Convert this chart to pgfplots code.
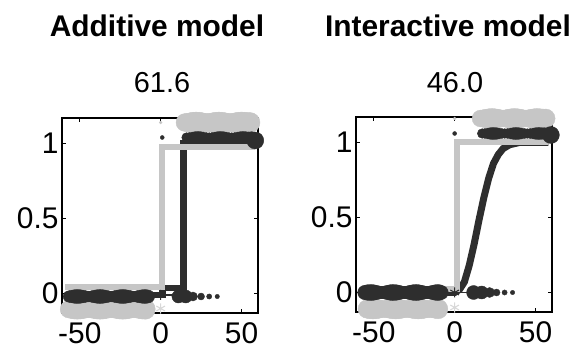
\documentclass[border=0pt]{standalone}
\usepackage{fontspec}
\setmainfont{Liberation Sans}
\usepackage{pgfplots}
\pgfplotsset{compat=1.18}
\definecolor{dk}{HTML}{2E2E2E}
\definecolor{lt}{HTML}{C6C6C6}
\definecolor{xlt}{HTML}{D8D8D8}

\pgfplotsset{
  panel/.style={
    scale only axis, width=196bp, height=195bp,
    xmin=-61, xmax=60.2, ymin=-0.13, ymax=1.17,
    xtick={-50,0,50}, xticklabels={-50,0,50},
    ytick={0,0.5,1}, yticklabels={0,0.5,1},
    tick align=inside, major tick length=4bp,
    tick style={black, line width=0.8bp},
    axis line style={black, line width=1.2bp},
    tick label style={font=\fontsize{30}{30}\selectfont},
    xticklabel style={yshift=-6bp},
    clip=false,
    anchor=south west,
  },
  blobs/.style={scatter, only marks, mark=*, point meta=explicit,
    scatter/use mapped color={draw=#1, fill=#1},
    visualization depends on={\thisrow{r} \as \rr},
    scatter/@pre marker code/.append style={/tikz/mark size=\rr bp}},
}

\begin{document}
\begin{tikzpicture}
\useasboundingbox (0,0) rectangle (579bp,357bp);

% ---------------- additive model ----------------
\begin{axis}[panel, at={(62bp,44bp)}]
  % observed proportions, marker radius ~ number of trials
  \addplot[blobs=lt] table[meta=r] {
x y r
-56.75 -0.105 8.7
-55.0 -0.105 9.3
-53.25 -0.105 9.8
-51.5 -0.105 10
-49.75 -0.105 9.8
-48.0 -0.105 9.3
-46.25 -0.105 8.7
-44.5 -0.105 8.4
-42.75 -0.105 8.7
-41.0 -0.105 9.3
-39.25 -0.105 9.8
-37.5 -0.105 10
-35.75 -0.105 9.8
-34.0 -0.105 9.3
-32.25 -0.105 8.7
-30.5 -0.105 8.4
-28.75 -0.105 8.7
-27.0 -0.105 9.3
-25.25 -0.105 9.8
-23.5 -0.105 10
-21.75 -0.105 9.8
-20.0 -0.105 9.3
-18.25 -0.105 8.7
-16.5 -0.105 8.4
-14.75 -0.105 8.7
-13.0 -0.105 9.3
-11.25 -0.105 9.8
-9.5 -0.105 10
  };
  \addplot[blobs=lt] table[meta=r] {
x y r
15.0 1.14 8.9
16.75 1.14 9.2
18.5 1.14 9.8
20.25 1.14 10.3
22.0 1.14 10.5
23.75 1.14 10.3
25.5 1.14 9.8
27.25 1.14 9.2
29.0 1.14 8.9
30.75 1.14 9.2
32.5 1.14 9.8
34.25 1.14 10.3
36.0 1.14 10.5
37.75 1.14 10.3
39.5 1.14 9.8
41.25 1.14 9.2
43.0 1.14 8.9
44.75 1.14 9.2
46.5 1.14 9.8
48.25 1.14 10.3
50.0 1.14 10.5
51.75 1.14 10.3
53.5 1.14 10
55.25 1.14 10
  };
  \addplot[blobs=dk] table[meta=r] {
x y r
-56.75 -0.02 5.7
-55.0 -0.02 6.3
-53.25 -0.02 6.8
-51.5 -0.02 7
-49.75 -0.02 6.8
-48.0 -0.02 6.3
-46.25 -0.02 5.7
-44.5 -0.02 5.4
-42.75 -0.02 5.7
-41.0 -0.02 6.3
-39.25 -0.02 6.8
-37.5 -0.02 7
-35.75 -0.02 6.8
-34.0 -0.02 6.3
-32.25 -0.02 5.7
-30.5 -0.02 5.4
-28.75 -0.02 5.7
-27.0 -0.02 6.3
-25.25 -0.02 6.8
-23.5 -0.02 7
-21.75 -0.02 6.8
-20.0 -0.02 6.3
-18.25 -0.02 5.7
-16.5 -0.02 5.4
-14.75 -0.02 5.7
-13.0 -0.02 6.3
-11.25 -0.02 6.8
-9.5 -0.02 7
-7.75 -0.02 6.5
11 -0.02 6.5
15.5 -0.02 6.5
20 -0.02 4.5
25 -0.02 3.5
30 -0.02 2.6
35 -0.02 2.2
  };
  \addplot[blobs=dk] table[meta=r] {
x y r
16.0 1.04 4.8
17.75 1.04 5
19.5 1.04 5.4
21.25 1.04 5.8
23.0 1.04 6
24.75 1.04 5.8
26.5 1.04 5.4
28.25 1.04 5
30.0 1.04 4.8
31.75 1.04 5
33.5 1.04 5.4
35.25 1.04 5.8
37.0 1.04 6
38.75 1.04 5.8
40.5 1.04 5.4
42.25 1.04 5
44.0 1.04 4.8
45.75 1.04 5
47.5 1.04 5.4
49.25 1.04 5.8
51.0 1.04 6
52.75 1.04 5.8
54.5 1.04 5.6
56.25 1.04 5.8
58.5 1.02 8.5
  };
  % fitted curves
  \addplot[dk, line width=1.5bp] coordinates {(0,-0.01) (18,-0.01)};
  \addplot[dk, line width=6.5bp] coordinates {
    (-58,-0.01) (1,-0.01) (1,0.035) (14,0.035) (14,1.0) (58,1.0)};
  \addplot[lt, line width=6bp] coordinates {
    (-59,0.045) (0.9,0.045) (0.9,0.975) (58.3,0.975)};
  % reference points
  \addplot[dk, only marks, mark=asterisk, mark size=5bp, line width=1.1bp] coordinates {(0,-0.01)};
  \addplot[xlt, only marks, mark=asterisk, mark size=5bp, line width=1.1bp] coordinates {(0,-0.1)};
  \addplot[dk, only marks, mark=*, mark size=2bp] coordinates {(1,1.04)};
  \addplot[lt, only marks, mark=*, mark size=1.5bp] coordinates {(0,1.14)};
\end{axis}

% ---------------- interactive model ----------------
\begin{axis}[panel, at={(356bp,45bp)}]
  \addplot[blobs=lt] table[meta=r] {
x y r
-54.0 -0.11 9.3
-52.25 -0.11 9.8
-50.5 -0.11 10
-48.75 -0.11 9.8
-47.0 -0.11 9.3
-45.25 -0.11 8.7
-43.5 -0.11 8.4
-41.75 -0.11 8.7
-40.0 -0.11 9.3
-38.25 -0.11 9.8
-36.5 -0.11 10
-34.75 -0.11 9.8
-33.0 -0.11 9.3
-31.25 -0.11 8.7
-29.5 -0.11 8.4
-27.75 -0.11 8.7
-26.0 -0.11 9.3
-24.25 -0.11 9.8
-22.5 -0.11 10
-20.75 -0.11 9.8
-19.0 -0.11 9.3
-17.25 -0.11 8.7
-15.5 -0.11 8.4
-13.75 -0.11 8.7
-12.0 -0.11 9.3
-10.25 -0.11 9.8
  };
  \addplot[blobs=lt] table[meta=r] {
x y r
16.0 1.16 8.4
17.75 1.16 8.7
19.5 1.16 9.3
21.25 1.16 9.8
23.0 1.16 10
24.75 1.16 9.8
26.5 1.16 9.3
28.25 1.16 8.7
30.0 1.16 8.4
31.75 1.16 8.7
33.5 1.16 9.3
35.25 1.16 9.8
37.0 1.16 10
38.75 1.16 9.8
40.5 1.16 9.3
42.25 1.16 8.7
44.0 1.16 8.4
45.75 1.16 8.7
47.5 1.16 9.3
49.25 1.16 9.8
51.0 1.16 10
52.75 1.16 9.8
54.5 1.16 9.5
56.25 1.16 9.5
  };
  \addplot[blobs=dk] table[meta=r] {
x y r
-55.5 0.0 7.2
-53.75 0.0 7.8
-52.0 0.0 8
-50.25 0.0 7.8
-48.5 0.0 7.2
-46.75 0.0 6.5
-45.0 0.0 6.2
-43.25 0.0 6.5
-41.5 0.0 7.2
-39.75 0.0 7.8
-38.0 0.0 8
-36.25 0.0 7.8
-34.5 0.0 7.2
-32.75 0.0 6.5
-31.0 0.0 6.2
-29.25 0.0 6.5
-27.5 0.0 7.2
-25.75 0.0 7.8
-24.0 0.0 8
-22.25 0.0 7.8
-20.5 0.0 7.2
-18.75 0.0 6.5
-17.0 0.0 6.2
-15.25 0.0 6.5
-13.5 0.0 7.2
-11.75 0.0 7.8
-10.0 0.0 8
-8.25 0.0 7
11.7 0.0 7
16.7 0.0 6.5
21.6 0.0 5
25.9 0.0 3.5
30.9 0.0 2.6
35.8 0.0 2.2
  };
  \addplot[blobs=dk] table[meta=r] {
x y r
17.0 1.06 4.8
18.75 1.06 5
20.5 1.06 5.4
22.25 1.06 5.8
24.0 1.06 6
25.75 1.06 5.8
27.5 1.06 5.4
29.25 1.06 5
31.0 1.06 4.8
32.75 1.06 5
34.5 1.06 5.4
36.25 1.06 5.8
38.0 1.06 6
39.75 1.06 5.8
41.5 1.06 5.4
43.25 1.06 5
45.0 1.06 4.8
46.75 1.06 5
48.5 1.06 5.4
50.25 1.06 5.8
52.0 1.06 6
53.75 1.06 5.8
55.5 1.06 5.8
59.5 1.05 8.5
  };
  \addplot[dk, line width=1.5bp] coordinates {(0,0) (20,0)};
  \addplot[dk, line width=7bp] coordinates {
    (-58,0) (0,0) (3,0.02) (6,0.07) (9,0.18) (12,0.32) (15,0.48) (18,0.63)
    (21,0.76) (24,0.86) (27,0.92) (30,0.96) (34,0.985) (40,1.0) (58,1.0)};
  \addplot[lt, line width=6bp] coordinates {
    (-57,0.02) (1.2,0.02) (1.2,1.0) (57.6,1.0)};
  \addplot[dk, only marks, mark=asterisk, mark size=5bp, line width=1.1bp] coordinates {(0,0)};
  \addplot[xlt, only marks, mark=asterisk, mark size=5bp, line width=1.1bp] coordinates {(0,-0.1)};
  \addplot[dk, only marks, mark=*, mark size=2bp] coordinates {(0,1.06)};
  \addplot[lt, only marks, mark=*, mark size=1.5bp] coordinates {(0,1.16)};
\end{axis}

% titles and scores
\node[anchor=base, font=\fontsize{30}{36}\selectfont\bfseries] at (157bp,320bp) {Additive model};
\node[anchor=base, font=\fontsize{30}{36}\selectfont\bfseries] at (448bp,320bp) {Interactive model};
\node[anchor=base, font=\fontsize{29}{36}\selectfont] at (162bp,264bp) {61.6};
\node[anchor=base, font=\fontsize{29}{36}\selectfont] at (455bp,264bp) {46.0};
\end{tikzpicture}
\end{document}
